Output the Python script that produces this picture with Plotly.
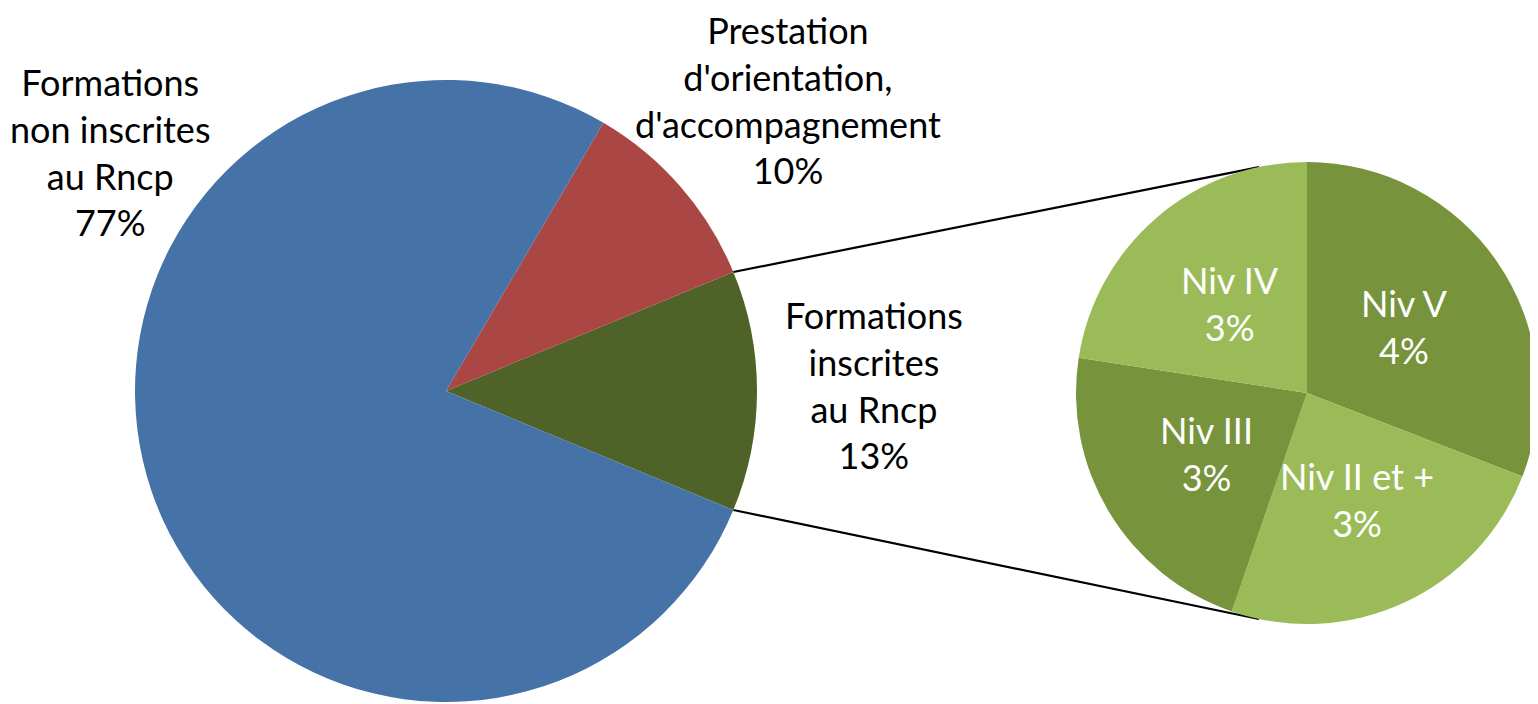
import math
import plotly.graph_objects as go

# ---- data ----
main_categories = ["Formations inscrites au Rncp",
                   "Prestation d'orientation, d'accompagnement",
                   "Formations non inscrites au Rncp"]
main_label_text = ["Formations<br>inscrites<br>au Rncp",
                   "Prestation<br>d'orientation,<br>d'accompagnement",
                   "Formations<br>non inscrites<br>au Rncp"]
main_values = [12.5, 10.3, 77.2]
main_colors = ["#4F6228", "#AA4643", "#4572A7"]

sub_categories = ["Niv V", "Niv II et +", "Niv III", "Niv IV"]
sub_values = [3.86, 3.05, 2.77, 2.82]
sub_colors = ["#77933C", "#9BBB59", "#77933C", "#9BBB59"]

# ---- layout constants (window pixels) ----
WIN_W, WIN_H = 1538, 704
PAGE_OFFSET = 8            # default body margin of the html page
W, H = WIN_W - PAGE_OFFSET, WIN_H - PAGE_OFFSET
FONT = "Lato"
FS = 36
MAIN_C = (446, 391)
MAIN_R = 311
SUB_C = (1307, 393)
SUB_R = 231
CONNECT_ANGLE = 12          # degrees from vertical on the secondary pie
SUB_LABEL_RF = 0.51
MAIN_LABEL_POS = [(874, 385), (788, 100), (110, 152)]


def px(x):
    return (x - PAGE_OFFSET) / W


def py(y):
    return 1 - (y - PAGE_OFFSET) / H


def dom(c, r):
    return dict(x=[px(c[0] - r), px(c[0] + r)], y=[py(c[1] + r), py(c[1] - r)])


def pct(v, tot):
    return f"{math.floor(v / tot * 100 + 0.5)}%"


total_main = sum(main_values)
green_deg = main_values[0] / total_main * 360

fig = go.Figure()
fig.add_trace(go.Pie(
    labels=main_categories, values=main_values, sort=False,
    direction="counterclockwise", rotation=90 - green_deg / 2,
    marker=dict(colors=main_colors, line=dict(width=0)),
    textinfo="none", hoverinfo="label+percent", showlegend=False,
    domain=dom(MAIN_C, MAIN_R)))

fig.add_trace(go.Pie(
    labels=sub_categories, values=sub_values, sort=False,
    direction="clockwise", rotation=0,
    marker=dict(colors=sub_colors, line=dict(width=0)),
    textinfo="none", hoverinfo="label+value", showlegend=False,
    domain=dom(SUB_C, SUB_R)))

annotations = []
for i, (txt, v) in enumerate(zip(main_label_text, main_values)):
    x, y = MAIN_LABEL_POS[i]
    annotations.append(dict(
        x=px(x), y=py(y), xref="paper", yref="paper", showarrow=False,
        xanchor="center", yanchor="middle", align="center",
        text=f"{txt}<br>{pct(v, total_main)}",
        font=dict(family=FONT, size=FS, color="#000000")))

total_sub = sum(sub_values)
acc = 0.0
for name, v in zip(sub_categories, sub_values):
    mid = (acc + v / 2) / total_sub * 2 * math.pi
    acc += v
    x = SUB_C[0] + SUB_R * SUB_LABEL_RF * math.sin(mid)
    y = SUB_C[1] - SUB_R * SUB_LABEL_RF * math.cos(mid)
    annotations.append(dict(
        x=px(x), y=py(y), xref="paper", yref="paper", showarrow=False,
        xanchor="center", yanchor="middle", align="center",
        text=f"{name}<br>{pct(v, total_main)}",
        font=dict(family=FONT, size=FS, color="#FFFFFF")))

shapes = []
half = math.radians(green_deg / 2)
ca = math.radians(CONNECT_ANGLE)
for s in (1, -1):
    x0 = MAIN_C[0] + MAIN_R * math.cos(half)
    y0 = MAIN_C[1] - s * MAIN_R * math.sin(half)
    x1 = SUB_C[0] - SUB_R * math.sin(ca)
    y1 = SUB_C[1] - s * SUB_R * math.cos(ca)
    shapes.append(dict(type="line", xref="paper", yref="paper",
                       x0=px(x0), y0=py(y0), x1=px(x1), y1=py(y1),
                       line=dict(color="#000000", width=2.2), layer="below"))

fig.update_layout(
    width=W, height=H, margin=dict(l=0, r=0, t=0, b=0),
    paper_bgcolor="#FFFFFF", plot_bgcolor="#FFFFFF",
    annotations=annotations, shapes=shapes,
    font=dict(family=FONT))

fig.write_html("out.html")
